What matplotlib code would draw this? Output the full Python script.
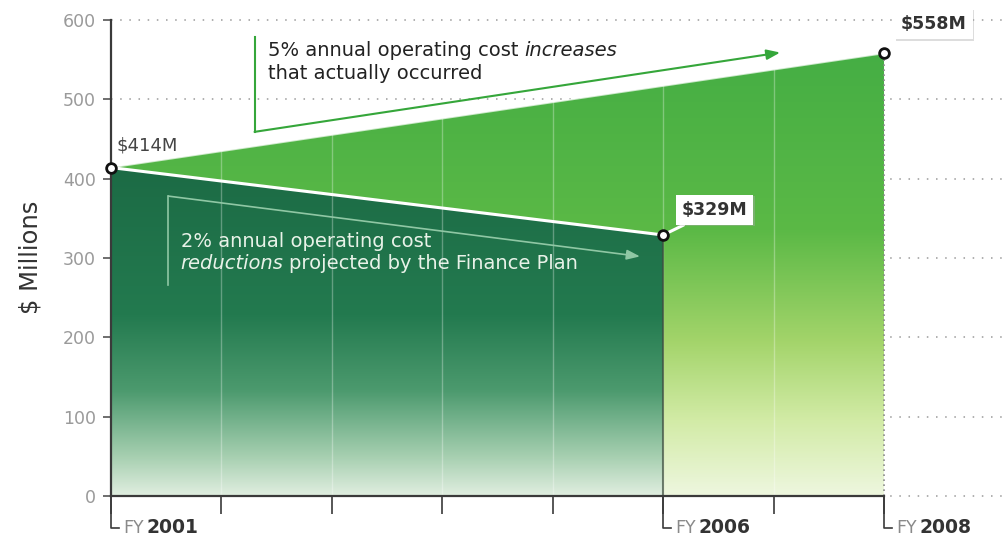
import matplotlib.pyplot as plt
import numpy as np
from matplotlib.colors import LinearSegmentedColormap
from matplotlib.patches import Polygon
import matplotlib.patheffects as pe

# operating cost, $ millions
years = [2001, 2006, 2008]
start_cost = 414
projected_cost = 329
actual_cost = 558
projected_years = [2001, 2006]
projected_values = [start_cost, projected_cost]
actual_years = [2001, 2008]
actual_values = [start_cost, actual_cost]
year_ticks = list(range(2001, 2009))
y_ticks = [0, 100, 200, 300, 400, 500, 600]
fy_labels = ["2001", "2006", "2008"]

fig = plt.figure(figsize=(10.05, 5.38), dpi=100)
ax = fig.add_axes([111 / 1005, 1 - 496 / 538, 894 / 1005, 476 / 538])
ax.set_xlim(2001, 2001 + 894 / 110.43)
ax.set_ylim(0, 600)

# dotted horizontal guides
for v in y_ticks:
    ax.plot([2001, 2010], [v, v], color='#9a9a9a', lw=1.1,
            linestyle=(0, (1, 5)), zorder=1, clip_on=False)

# actual cost area with vertical gradient
actual_poly = Polygon([(actual_years[0], 0), (actual_years[0], actual_values[0]),
                       (actual_years[1], actual_values[1]), (actual_years[1], 0)],
                      closed=True, fc='none', ec='none')
ax.add_patch(actual_poly)
cmap_actual = LinearSegmentedColormap.from_list('actual', [
    (0.0, '#eef7df'), (0.17, '#d2eba6'), (0.35, '#a3d46a'),
    (0.6, '#5bb946'), (1.0, '#45ae44')])
grad = np.linspace(0, 1, 256).reshape(-1, 1)
im = ax.imshow(grad, cmap=cmap_actual, origin='lower', aspect='auto',
               extent=[2001, 2008, 0, actual_cost], zorder=2)
im.set_clip_path(actual_poly)

# projected cost area, darker gradient
proj_poly = Polygon([(projected_years[0], 0), (projected_years[0], projected_values[0]),
                     (projected_years[1], projected_values[1]), (projected_years[1], 0)],
                    closed=True, fc='none', ec='none')
ax.add_patch(proj_poly)
cmap_proj = LinearSegmentedColormap.from_list('proj', [
    (0.0, '#e0eee0'), (0.12, '#a6cfb0'), (0.32, '#4c9a6e'),
    (0.55, '#237a4f'), (1.0, '#1c6b45')])
im2 = ax.imshow(grad, cmap=cmap_proj, origin='lower', aspect='auto',
                extent=[2001, 2006, 0, start_cost], zorder=3)
im2.set_clip_path(proj_poly)

# faint year lines inside the areas
vl = ax.vlines(year_ticks[1:-1], 0, 600, colors='white', lw=1, alpha=0.3, zorder=4)
vl.set_clip_path(actual_poly)

# area edges
ax.plot([2006, 2006], [0, projected_cost], color='#3a4a3a', lw=1.5, alpha=0.7, zorder=4)
ax.plot([2008, 2008], [0, actual_cost], color='#8a8a8a', lw=1.2,
        linestyle=(0, (1, 2)), zorder=4)
ax.plot(actual_years, actual_values, color='white', lw=1.3, alpha=0.7, zorder=5)
ax.plot(projected_years, projected_values, color='white', lw=2.2, zorder=5)

# axes lines
ax.plot([2001, 2008], [0, 0], color='#3a3a3a', lw=1.6, zorder=6, clip_on=False)
for s in ['top', 'right', 'bottom']:
    ax.spines[s].set_visible(False)
ax.spines['left'].set_color('#3a3a3a')
ax.spines['left'].set_linewidth(1.6)
ax.spines['left'].set_zorder(6)

ax.set_yticks(y_ticks)
ax.set_yticklabels([str(v) for v in y_ticks])
ax.tick_params(axis='y', direction='out', length=6, width=1.2, color='#555555',
               labelcolor='#9a9a9a', labelsize=12.5, pad=5)
ax.set_xticks(year_ticks)
ax.set_xticklabels([])
ax.tick_params(axis='x', direction='out', length=13, width=1.2, color='#3a3a3a')

# FY markers with L-shaped leaders
for yr, lab in zip(years, fy_labels):
    ax.plot([yr, yr, yr + 0.07], [0, -40, -40], color='#3a3a3a', lw=1.2, clip_on=False)
    t = ax.text(yr + 0.11, -40, "FY", color='#8a8a8a', fontsize=12.5,
                ha='left', va='center', clip_on=False)
    ax.annotate(lab, xy=(1, 0), xycoords=t, xytext=(2, 0), textcoords='offset points',
                color='#333333', fontsize=13.5, fontweight='bold', ha='left', va='bottom')

fig.text(0.03, 1 - 257 / 538, "$ Millions", rotation=90, ha='center', va='center',
         fontsize=17.5, color='#333333')

# point markers
ax.plot([2001, 2006, 2008], [start_cost, projected_cost, actual_cost], 'o', ms=7,
        mfc='white', mec='#111111', mew=2, zorder=9, clip_on=False)

ax.annotate(f"${start_cost}M", xy=(2001, start_cost), xytext=(4, 16),
            textcoords='offset points', ha='left', va='center', fontsize=13,
            color='#444444', zorder=9)

shadow = [pe.withSimplePatchShadow(offset=(1, -1), shadow_rgbFace='#aaaaaa', alpha=0.4)]
for yr, val, off in [(2006, projected_cost, (37, 18)), (2008, actual_cost, (36, 21))]:
    a = ax.annotate(f"${val}M", xy=(yr, val), xytext=off, textcoords='offset points',
                    ha='center', va='center', fontsize=12.5, fontweight='bold',
                    color='#333333', zorder=8, annotation_clip=False,
                    bbox=dict(boxstyle='square,pad=0.35', fc='white', ec='none'),
                    arrowprops=dict(arrowstyle='-', color='white', lw=2.2,
                                    shrinkA=0, shrinkB=2))
    a.get_bbox_patch().set_path_effects(shadow)

# increase bracket arrow
green = '#35a63a'
ax.plot([2002.30, 2002.30], [578, 459], color=green, lw=1.5, zorder=7)
ax.annotate("", xy=(2007.06, 559), xytext=(2002.30, 459),
            arrowprops=dict(arrowstyle='-|>,head_length=0.8,head_width=0.3',
                        color=green, lw=1.5, shrinkA=0, shrinkB=0), zorder=7)
t1 = ax.text(2002.42, 549, "5% annual operating cost", fontsize=14, color='#222222',
             ha='left', va='bottom', zorder=7)
ax.annotate("increases", xy=(1, 0), xycoords=t1, xytext=(4, 0),
            textcoords='offset points', fontsize=14, color='#222222',
            style='italic', ha='left', va='bottom')
ax.text(2002.42, 521, "that actually occurred", fontsize=14, color='#222222',
        ha='left', va='bottom', zorder=7)

# reduction bracket arrow
pale = '#8fc7a4'
ax.plot([2001.52, 2001.52], [378, 266], color=pale, lw=1.2, zorder=7)
ax.annotate("", xy=(2005.79, 302), xytext=(2001.52, 378),
            arrowprops=dict(arrowstyle='-|>,head_length=0.8,head_width=0.3',
                        color=pale, lw=1.2, shrinkA=0, shrinkB=0), zorder=7)
ax.text(2001.63, 309, "2% annual operating cost", fontsize=14, color='#e8f2e8',
        ha='left', va='bottom', zorder=7)
t3 = ax.text(2001.63, 281, "reductions", fontsize=14, color='#e8f2e8',
             style='italic', ha='left', va='bottom', zorder=7)
ax.annotate("projected by the Finance Plan", xy=(1, 0), xycoords=t3, xytext=(4, 0),
            textcoords='offset points', fontsize=14, color='#e8f2e8',
            ha='left', va='bottom')

fig.savefig('out.png', dpi=100)
